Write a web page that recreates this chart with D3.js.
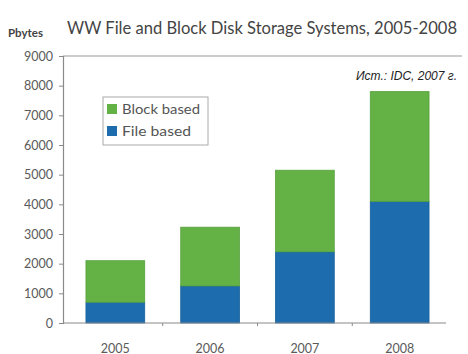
<!DOCTYPE html>
<html><head><meta charset="utf-8">
<script src="https://cdn.jsdelivr.net/npm/d3@7"></script>
<style>
html,body{margin:0;padding:0;background:#fff;}
svg{display:block;}
</style></head>
<body>
<script>
const years = ["2005","2006","2007","2008"];
const fileBased = [700, 1250, 2400, 4100];
const blockBased = [1400, 1980, 2750, 3700];
const yTicks = [0,1000,2000,3000,4000,5000,6000,7000,8000,9000];
const seriesNames = ["Block based","File based"];
const colors = {"Block based":"#64b246","File based":"#1d6cae"};

const W=468,H=354;
const svg=d3.select("body").append("svg").attr("width",W).attr("height",H);
const font="'Century Gothic','URW Gothic','Lato','Open Sans',sans-serif";

const x=d3.scaleBand().domain(years).range([67,448]).paddingInner(0.38).paddingOuter(0.2);
const y=d3.scaleLinear().domain([0,9000]).range([323,56]);

// top border line
svg.append("line").attr("x1",63).attr("x2",462).attr("y1",y(9000)).attr("y2",y(9000))
  .attr("stroke","#9a9a9a").attr("stroke-width",1.2);

// bars
const stacked = years.map((yr,i)=>({yr, file:fileBased[i], block:blockBased[i]}));
const g=svg.append("g");
g.selectAll("rect.file").data(stacked).join("rect").attr("class","file")
  .attr("x",d=>x(d.yr)).attr("width",x.bandwidth())
  .attr("y",d=>y(d.file)).attr("height",d=>y(0)-y(d.file))
  .attr("fill",colors["File based"]).attr("stroke","#17609e").attr("stroke-width",0.8);
g.selectAll("rect.block").data(stacked).join("rect").attr("class","block")
  .attr("x",d=>x(d.yr)).attr("width",x.bandwidth())
  .attr("y",d=>y(d.file+d.block)).attr("height",d=>y(d.file)-y(d.file+d.block))
  .attr("fill",colors["Block based"]).attr("stroke","#57a03c").attr("stroke-width",0.8);

// y axis
const ya=svg.append("g").attr("transform","translate(63,0)")
  .call(d3.axisLeft(y).tickValues(yTicks).tickSize(4).tickPadding(6).tickFormat(d3.format("d")));
ya.select(".domain").attr("stroke","#8a8a8a").attr("stroke-width",1.2);
ya.selectAll(".tick line").attr("stroke","#8a8a8a");
ya.selectAll("text").attr("font-family",font).attr("font-size",12.5).attr("fill","#5a5a5a");

// x axis
const xa=svg.append("g").attr("transform",`translate(0,${y(0)})`);
xa.append("line").attr("x1",63).attr("x2",446).attr("stroke","#8a8a8a").attr("stroke-width",1.2);
const step=x.step();
const bounds=years.slice(1).map(yr=>x(yr)-(step-x.bandwidth())/2);
xa.selectAll("line.t").data(bounds).join("line").attr("class","t")
  .attr("x1",d=>d).attr("x2",d=>d).attr("y1",0).attr("y2",3).attr("stroke","#8a8a8a");
xa.selectAll("text").data(years).join("text")
  .attr("x",d=>x(d)+x.bandwidth()/2).attr("y",29.5).attr("text-anchor","middle")
  .attr("font-family",font).attr("font-size",12.5).attr("fill","#5a5a5a").text(d=>d);

// title
svg.append("text").attr("x",8).attr("y",37).attr("font-family",font).attr("font-weight","bold")
  .attr("font-size",11.5).attr("fill","#444").text("Pbytes");
svg.append("text").attr("x",67).attr("y",34).attr("font-family",font)
  .attr("font-size",17).attr("fill","#444").attr("textLength",390).attr("lengthAdjust","spacingAndGlyphs")
  .text("WW File and Block Disk Storage Systems, 2005-2008");

// source
svg.append("text").attr("x",457).attr("y",80).attr("text-anchor","end")
  .attr("font-family","'Liberation Sans Narrow','Arial Narrow',sans-serif").attr("font-style","italic")
  .attr("font-size",12).attr("fill","#222").text("Ист.: IDC, 2007 г.");

// legend
const lg=svg.append("g");
lg.append("rect").attr("x",103).attr("y",97).attr("width",105).attr("height",48)
  .attr("fill","#fff").attr("stroke","#aaa").attr("stroke-width",1);
const legendLens=[78,69];
seriesNames.forEach((s,i)=>{
  lg.append("rect").attr("x",107).attr("y",104+i*22).attr("width",10).attr("height",10)
    .attr("fill",colors[s]);
  lg.append("text").attr("x",122).attr("y",113.5+i*22).attr("font-family",font)
    .attr("font-size",13).attr("fill","#555")
    .attr("textLength",legendLens[i]).attr("lengthAdjust","spacingAndGlyphs").text(s);
});
</script>
</body></html>
